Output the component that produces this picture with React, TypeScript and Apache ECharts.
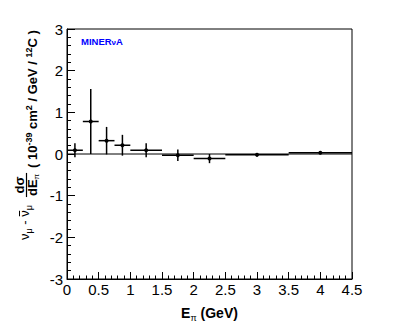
import React, { useEffect, useRef } from "react";
import * as echarts from "echarts";

// ---- data ----
const binLow = [0, 0.25, 0.5, 0.75, 1.0, 1.5, 2.0, 2.5, 3.5];
const binHigh = [0.25, 0.5, 0.75, 1.0, 1.5, 2.0, 2.5, 3.5, 4.5];
const xsec = [0.09, 0.78, 0.32, 0.21, 0.09, -0.03, -0.11, -0.02, 0.03];
const xsecErr = [0.17, 0.78, 0.33, 0.25, 0.17, 0.14, 0.11, 0.04, 0.02];
const xRange = [0, 4.5];
const yRange = [-3, 3];

const FONT = "Liberation Sans";

let measureCtx: CanvasRenderingContext2D | null = null;
function measure(text: string, size: number, weight: string) {
  if (!measureCtx) measureCtx = document.createElement("canvas").getContext("2d");
  if (!measureCtx) return text.length * size * 0.55;
  measureCtx.font = `${weight} ${size}px "${FONT}", Arial, sans-serif`;
  return measureCtx.measureText(text).width;
}

type Piece = { t: string; s: number; w?: string; dy?: number };

function textEl(t: string, x: number, baseline: number, s: number, w: string, color: string) {
  return {
    type: "text",
    x,
    y: baseline - 0.35 * s,
    silent: true,
    style: {
      text: t,
      fontSize: s,
      fontWeight: w,
      fontFamily: FONT,
      fill: color,
      textAlign: "left",
      textVerticalAlign: "middle",
    },
  };
}

function layout(pieces: Piece[], x0: number, baseline: number, color: string) {
  const els: any[] = [];
  let x = x0;
  for (const p of pieces) {
    const w = p.w || "normal";
    els.push(textEl(p.t, x, baseline + (p.dy || 0), p.s, w, color));
    x += measure(p.t, p.s, w);
  }
  return { els, width: x - x0 };
}

function piecesWidth(pieces: Piece[]) {
  return pieces.reduce((a, p) => a + measure(p.t, p.s, p.w || "normal"), 0);
}

function buildGraphics() {
  const g: any[] = [];

  // MINERvA label
  g.push(
    ...layout(
      [
        { t: "MINER", s: 9.5, w: "bold" },
        { t: "ν", s: 8, w: "bold" },
        { t: "A", s: 9.5, w: "bold" },
      ],
      81,
      45,
      "#0000ff"
    ).els
  );

  // x title
  const xt: Piece[] = [
    { t: "E", s: 14, w: "bold" },
    { t: "π", s: 9, w: "normal", dy: 3 },
    { t: " (GeV)", s: 14, w: "bold" },
  ];
  const xw = piecesWidth(xt);
  g.push(...layout(xt, 209.5 - xw / 2, 318, "#000").els);

  // y title (rotated group). local x = 240 - screenY, local y = screenX
  const children: any[] = [];
  const nu: Piece[] = [
    { t: "ν", s: 13 },
    { t: "μ", s: 9, dy: 3 },
    { t: " - ", s: 13 },
  ];
  const a = layout(nu, 0, 29, "#000");
  children.push(...a.els);
  const nuBarX = a.width;
  const b = layout(
    [
      { t: "ν", s: 13 },
      { t: "μ", s: 9, dy: 3 },
    ],
    nuBarX,
    29,
    "#000"
  );
  children.push(...b.els);
  const nuW = measure("ν", 13, "normal");
  children.push({
    type: "line",
    silent: true,
    shape: { x1: nuBarX + 0.5, y1: 19.5, x2: nuBarX + nuW - 0.5, y2: 19.5 },
    style: { stroke: "#000", lineWidth: 1 },
  });

  // fraction dσ / dE_π
  const fc = 55;
  const num: Piece[] = [{ t: "dσ", s: 13, w: "bold" }];
  const den: Piece[] = [
    { t: "dE", s: 13, w: "bold" },
    { t: "π", s: 8, w: "normal", dy: 2 },
  ];
  const nw = piecesWidth(num);
  const dw = piecesWidth(den);
  children.push(...layout(num, fc - nw / 2, 24.5, "#000").els);
  children.push(...layout(den, fc - dw / 2, 37.5, "#000").els);
  const fw = Math.max(nw, dw) + 2;
  children.push({
    type: "line",
    silent: true,
    shape: { x1: fc - fw / 2, y1: 26.5, x2: fc + fw / 2, y2: 26.5 },
    style: { stroke: "#000", lineWidth: 1.2 },
  });

  // units
  const S = 13;
  const s2 = 9;
  const units: Piece[] = [
    { t: "( 10", s: S, w: "bold" },
    { t: "-39", s: s2, w: "bold", dy: -5 },
    { t: " cm", s: S, w: "bold" },
    { t: "2", s: s2, w: "bold", dy: -5 },
    { t: " / GeV / ", s: S, w: "bold" },
    { t: "12", s: s2, w: "bold", dy: -5 },
    { t: "C )", s: S, w: "bold" },
  ];
  children.push(...layout(units, 72, 37, "#000").els);

  g.push({
    type: "group",
    x: 0,
    y: 240,
    rotation: Math.PI / 2,
    children,
  });
  return g;
}

function renderItem(params: any, api: any) {
  const lo = api.value(0);
  const hi = api.value(1);
  const y = api.value(2);
  const e = api.value(3);
  const xm = (lo + hi) / 2;
  const pL = api.coord([lo, y]);
  const pR = api.coord([hi, y]);
  const pT = api.coord([xm, y + e]);
  const pB = api.coord([xm, y - e]);
  const pC = api.coord([xm, y]);
  return {
    type: "group",
    children: [
      {
        type: "line",
        shape: { x1: pL[0], y1: pL[1], x2: pR[0], y2: pR[1] },
        style: { stroke: "#000", lineWidth: 1.5 },
      },
      {
        type: "line",
        shape: { x1: pT[0], y1: pT[1], x2: pB[0], y2: pB[1] },
        style: { stroke: "#000", lineWidth: 1.5 },
      },
      {
        type: "circle",
        shape: { cx: pC[0], cy: pC[1], r: 2 },
        style: { fill: "#000" },
      },
    ],
  };
}

export default function App() {
  const ref = useRef<HTMLDivElement>(null);
  useEffect(() => {
    if (!ref.current) return;
    const chart = echarts.init(ref.current, undefined, { renderer: "svg" });
    const axisCommon = {
      type: "value",
      splitLine: { show: false },
      minorSplitLine: { show: false },
      axisLine: { show: true, onZero: false, lineStyle: { color: "#000", width: 1 } },
    };
    chart.setOption({
      animation: false,
      backgroundColor: "#fff",
      grid: {
        left: 67,
        top: 29,
        width: 285,
        height: 250,
        show: true,
        borderColor: "#000",
        borderWidth: 1,
        backgroundColor: "transparent",
      },
      xAxis: {
        ...axisCommon,
        min: xRange[0],
        max: xRange[1],
        interval: 0.5,
        axisTick: { show: true, inside: true, length: 7, lineStyle: { color: "#000" } },
        minorTick: { show: true, splitNumber: 5, length: 3.5, lineStyle: { color: "#000" } },
        axisLabel: {
          color: "#000",
          fontSize: 15,
          fontFamily: FONT,
          margin: 3,
          showMinLabel: true,
          showMaxLabel: true,
        },
      },
      yAxis: {
        ...axisCommon,
        min: yRange[0],
        max: yRange[1],
        interval: 1,
        axisTick: { show: true, inside: true, length: 8, lineStyle: { color: "#000" } },
        minorTick: { show: true, splitNumber: 5, length: 4, lineStyle: { color: "#000" } },
        axisLabel: {
          color: "#000",
          fontSize: 15,
          fontFamily: FONT,
          margin: 4,
          showMinLabel: true,
          showMaxLabel: true,
        },
      },
      series: [
        {
          type: "line",
          data: [
            [xRange[0], 0],
            [xRange[1], 0],
          ],
          symbol: "none",
          silent: true,
          lineStyle: { color: "#000", width: 1 },
          z: 1,
        },
        {
          type: "custom",
          renderItem,
          encode: { x: [0, 1], y: 2 },
          data: binLow.map((lo, i) => [lo, binHigh[i], xsec[i], xsecErr[i]]),
          z: 2,
        },
      ],
      graphic: buildGraphics(),
    });
    return () => chart.dispose();
  }, []);
  return (
    <div
      ref={ref}
      style={{ position: "fixed", left: 0, top: 0, width: 407, height: 328 }}
    />
  );
}
